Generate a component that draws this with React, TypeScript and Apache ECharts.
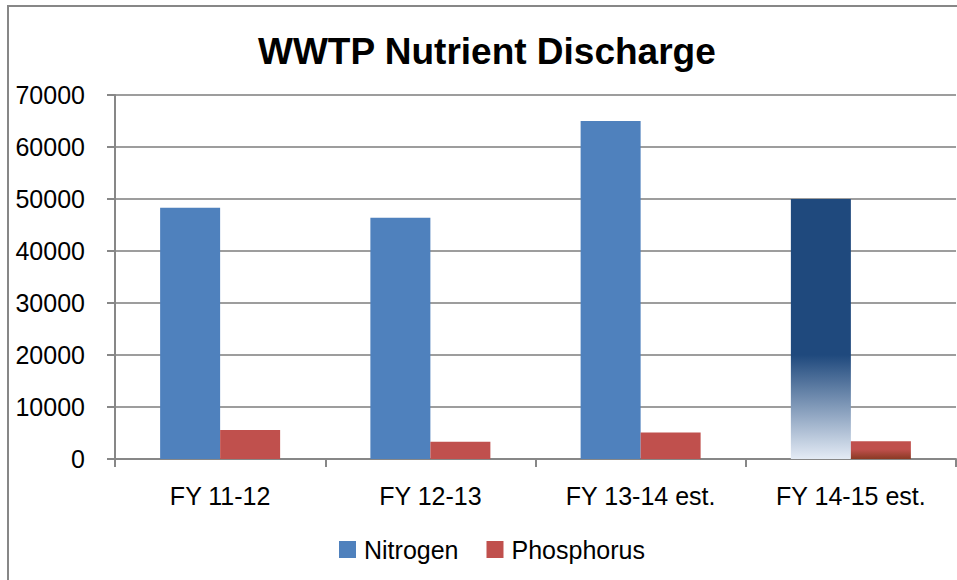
import React, { useEffect, useRef } from "react";
import * as echarts from "echarts";

const categories = ["FY 11-12", "FY 12-13", "FY 13-14 est.", "FY 14-15 est."];
const nitrogen = [48300, 46400, 65000, 50000];
const phosphorus = [5600, 3300, 5100, 3400];
const yTicks = { min: 0, max: 70000, interval: 10000 };

const FONT = "Liberation Sans";

export default function App() {
  const ref = useRef<HTMLDivElement>(null);
  useEffect(() => {
    if (!ref.current) return;
    const chart = echarts.init(ref.current, null, { renderer: "svg" });
    const lastIdx = categories.length - 1;
    const nData = nitrogen.map((v, i) =>
      i === lastIdx
        ? {
            value: v,
            itemStyle: {
              color: new echarts.graphic.LinearGradient(0, 0, 0, 1, [
                { offset: 0, color: "#1F497D" },
                { offset: 0.6, color: "#1F497D" },
                { offset: 1, color: "#E4EBF5" },
              ]),
            },
          }
        : v
    );
    const pData = phosphorus.map((v, i) =>
      i === lastIdx
        ? {
            value: v,
            itemStyle: {
              color: new echarts.graphic.LinearGradient(0, 0, 0, 1, [
                { offset: 0, color: "#C0504D" },
                { offset: 0.45, color: "#C0504D" },
                { offset: 1, color: "#8A3A24" },
              ]),
            },
          }
        : v
    );
    chart.setOption({
      animation: false,
      backgroundColor: "#ffffff",
      textStyle: { fontFamily: FONT },
      title: {
        text: "WWTP Nutrient Discharge",
        left: 258,
        top: 33,
        padding: 0,
        textStyle: { fontFamily: FONT, fontWeight: "bold", fontSize: 37, color: "#000" },
      },
      graphic: [
        {
          type: "rect",
          shape: { x: 8, y: 6, width: 2000, height: 2000 },
          style: { fill: "none", stroke: "#878787", lineWidth: 2 },
          silent: true,
          z: 100,
        },
      ],
      legend: {
        left: 334,
        top: 532,
        itemWidth: 17,
        itemHeight: 17,
        itemGap: 28,
        icon: "rect",
        textStyle: { fontFamily: FONT, fontSize: 25, color: "#000", padding: [0, 0, 0, 3] },
        data: ["Nitrogen", "Phosphorus"],
      },
      grid: { left: 115, right: 1, top: 95, bottom: 121, containLabel: false },
      xAxis: {
        type: "category",
        data: categories,
        axisLine: { lineStyle: { color: "#878787", width: 2 } },
        axisTick: { show: true, length: 8, lineStyle: { color: "#878787", width: 2 } },
        axisLabel: { color: "#000", fontSize: 25, fontFamily: FONT, margin: 24 },
      },
      yAxis: {
        type: "value",
        min: yTicks.min,
        max: yTicks.max,
        interval: yTicks.interval,
        axisLine: { show: true, lineStyle: { color: "#878787", width: 2 } },
        axisTick: { show: true, length: 8, lineStyle: { color: "#878787", width: 2 } },
        splitLine: { lineStyle: { color: "#9d9d9d", width: 2 } },
        axisLabel: {
          color: "#000",
          fontSize: 25,
          fontFamily: FONT,
          margin: 30,
          formatter: (v: number) => String(v),
        },
      },
      series: [
        {
          name: "Nitrogen",
          type: "bar",
          data: nData,
          barWidth: 60,
          barGap: "0%",
          itemStyle: { color: "#4F81BD" },
        },
        {
          name: "Phosphorus",
          type: "bar",
          data: pData,
          barWidth: 60,
          itemStyle: { color: "#C0504D" },
        },
      ],
    });
    return () => chart.dispose();
  }, []);
  return (
    <div
      ref={ref}
      style={{ position: "absolute", left: 0, top: 0, width: 957, height: 580 }}
    />
  );
}
